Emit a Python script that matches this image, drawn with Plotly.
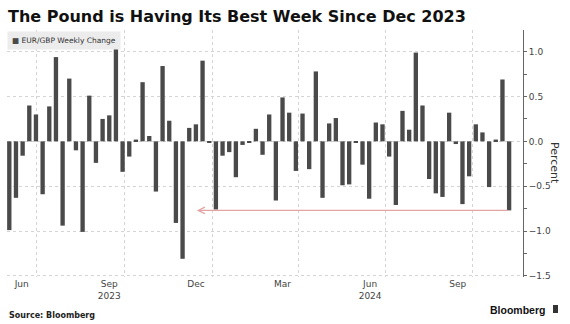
import pandas as pd
import plotly.graph_objects as go

# Weekly EUR/GBP change (%), one value per week ending on Friday
week_start = "2023-06-02"
weekly_change = [
    -0.99, -0.63, -0.16, 0.40, 0.30, -0.59, 0.39, 0.94, -0.94, 0.70,
    -0.10, -1.01, 0.51, -0.24, 0.25, 0.29, 1.03, -0.34, -0.17, 0.02,
    0.66, 0.06, -0.56, 0.84, 0.23, -0.91, -1.31, 0.15, 0.19, 0.90,
    -0.01, -0.76, -0.16, -0.12, -0.40, -0.04, -0.01, 0.14, -0.15, 0.30,
    -0.66, 0.49, 0.32, -0.33, 0.31, -0.31, 0.78, -0.63, 0.20, 0.26,
    -0.49, -0.48, -0.01, -0.26, -0.64, 0.21, 0.19, -0.17, -0.71, 0.34,
    0.13, 0.99, 0.40, -0.42, -0.58, -0.62, 0.32, -0.03, -0.70, -0.39,
    0.19, 0.10, -0.51, 0.02, 0.69, -0.77,
]
weeks = pd.date_range(week_start, periods=len(weekly_change), freq="7D")

# Month labels (centred mid-month) and quarter-start gridlines
label_dates = ["2023-06-15", "2023-09-15", "2023-12-15", "2024-03-15", "2024-06-15", "2024-09-15"]
label_text = ["Jun", "Sep<br>2023", "Dec", "Mar", "Jun<br>2024", "Sep"]
quarter_starts = ["2023-07-01", "2023-10-01", "2024-01-01", "2024-04-01", "2024-07-01", "2024-10-01"]

x_range = ["2023-05-30 14:00", "2024-11-22 14:00"]
y_range = [-1.513, 1.242]
y_ticks = [-1.5, -1.0, -0.5, 0.0, 0.5, 1.0]

# Arrow from the latest week back to mid-December 2023
arrow_tip = "2023-12-16"
latest_change = weekly_change[-1]

BAR = "#4a4a4a"
GRID = "#d4d4d4"
TXT = "#444444"
FONT = "DejaVu Sans"

fig = go.Figure()
fig.add_trace(go.Bar(
    x=weeks, y=weekly_change, marker=dict(color=BAR, line=dict(width=0)),
    showlegend=False, hoverinfo="x+y",
))

fig.update_layout(
    width=570, height=324,
    margin=dict(l=7, r=47, t=30, b=47),
    paper_bgcolor="white", plot_bgcolor="white",
    bargap=0.35,
    title=dict(
        text="<b>The Pound is Having Its Best Week Since Dec 2023</b>",
        font=dict(family=FONT, size=16, color="#111111"),
        xref="container", yref="container",
        x=8 / 570, xanchor="left", y=1 - 16.5 / 324, yanchor="middle",
    ),
    xaxis=dict(
        type="date", range=x_range,
        tickmode="array", tickvals=label_dates, ticktext=label_text,
        ticks="", showgrid=False, showline=False, zeroline=False,
        tickfont=dict(family=FONT, size=9, color=TXT),
        minor=dict(tickmode="array", tickvals=quarter_starts, showgrid=True,
                   gridcolor=GRID, griddash="dot", gridwidth=1, ticks=""),
    ),
    yaxis=dict(
        side="right", range=y_range,
        tickmode="array", tickvals=y_ticks, tickformat=".1f",
        showgrid=True, gridcolor=GRID, griddash="dot", gridwidth=1,
        zeroline=False, showline=True, linecolor="#666666", linewidth=1,
        ticks="outside", ticklen=3, tickcolor="#666666",
        tickfont=dict(family=FONT, size=9, color=TXT),
        minor=dict(dtick=0.25, tick0=0, ticks="outside", ticklen=3,
                   tickcolor="#666666", showgrid=False),
    ),
)

fig.add_annotation(
    x=arrow_tip, y=latest_change, ax=weeks[-1], ay=latest_change,
    xref="x", yref="y", axref="x", ayref="y",
    text="", showarrow=True, arrowhead=5, arrowsize=1.0, arrowwidth=1.3,
    arrowcolor="#e4a3a3",
)

fig.add_annotation(
    x=0.0005, y=0.9595, xref="paper", yref="paper", xanchor="left", yanchor="middle",
    text="<span style='color:#4a4a4a'>■</span> EUR/GBP Weekly Change",
    showarrow=False, bgcolor="#ececec", borderpad=4,
    font=dict(family=FONT, size=7.5, color="#333333"),
)
fig.add_annotation(
    x=1.062, y=0.4615, xref="paper", yref="paper", xanchor="center", yanchor="middle",
    text="Percent", textangle=90, showarrow=False,
    font=dict(family=FONT, size=11, color="#333333"),
)
fig.add_annotation(
    x=0.0, y=-0.154, xref="paper", yref="paper", xanchor="left", yanchor="middle",
    text="<b>Source: Bloomberg</b>", showarrow=False,
    font=dict(family=FONT, size=8, color="#222222"),
)
fig.add_annotation(
    x=1.0465, y=-0.135, xref="paper", yref="paper", xanchor="right", yanchor="middle",
    text="<b>Bloomberg</b>", showarrow=False,
    font=dict(family="Liberation Sans", size=10.5, color="#111111"),
)
fig.add_shape(type="rect", xref="paper", yref="paper",
              x0=1.0581, x1=1.0678, y0=-0.1457, y1=-0.1134,
              fillcolor="#333333", line=dict(width=0))

fig.write_html("out.html")
